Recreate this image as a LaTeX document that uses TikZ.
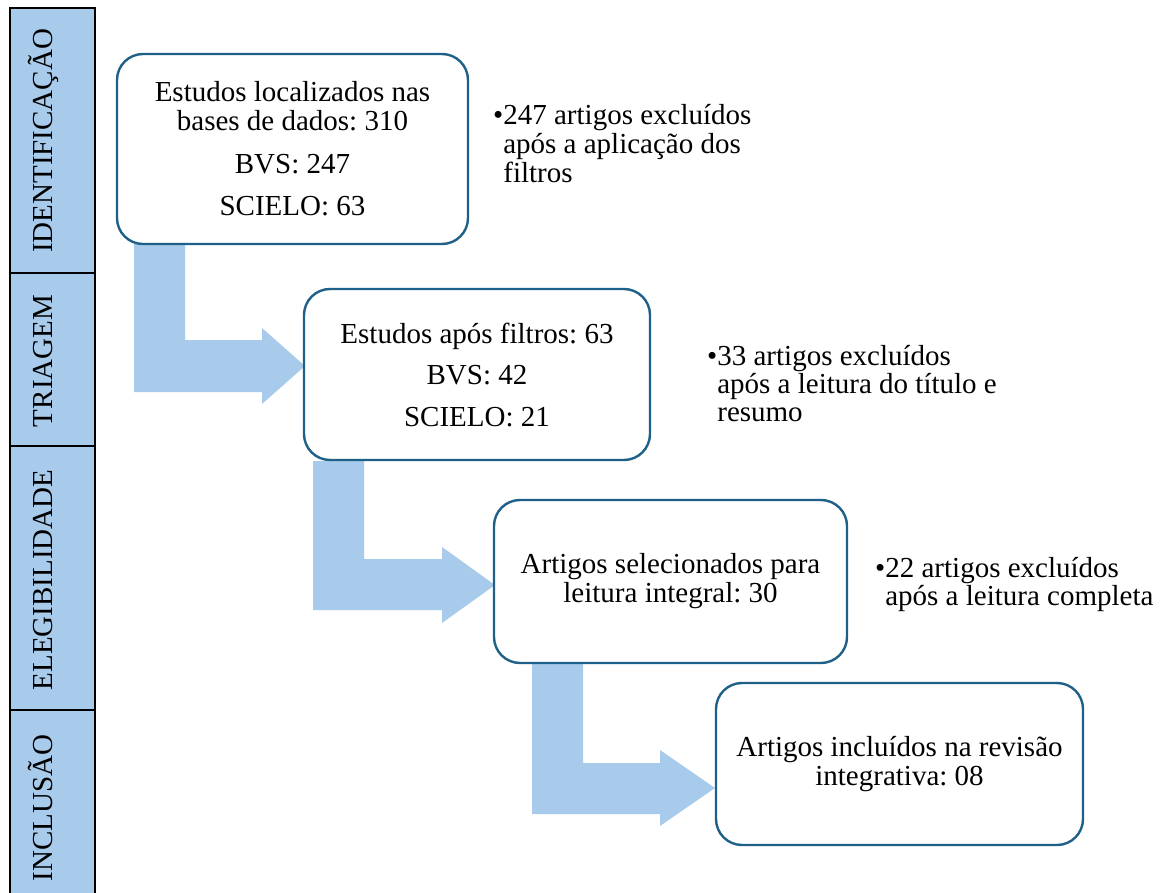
\documentclass[tikz,border=0pt]{standalone}
\usepackage{fontspec}
\setmainfont{Liberation Serif}
\definecolor{boxline}{HTML}{1F6088}
\definecolor{lightblue}{HTML}{A8CBEC}
\newcommand{\diagfont}{\fontsize{29}{29}\selectfont\frenchspacing}
\newcommand{\notefont}{\fontsize{29}{28}\selectfont\frenchspacing}
\begin{document}
\begin{tikzpicture}[x=1pt,y=-1pt,
  box/.style={draw=boxline, line width=2.4pt, rounded corners=26pt, fill=white,
    align=center, inner sep=0pt, font=\diagfont},
  phase/.style={draw=black, line width=2pt, fill=lightblue, inner sep=0pt,
    minimum width=85pt},
  phaselabel/.style={rotate=90, anchor=base, inner sep=0pt, font=\diagfont},
  note/.style={anchor=base west, inner sep=0pt, font=\notefont},
  blockarrow/.style={fill=lightblue, draw=none}]
\useasboundingbox (0,0) rectangle (1170,893);

% phase column
\node[phase, minimum height=265pt] (p1) at (52.5,140.5) {};
\node[phase, minimum height=173pt] (p2) at (52.5,359.5) {};
\node[phase, minimum height=264pt] (p3) at (52.5,578) {};
\node[phase, minimum height=200pt] (p4) at (52.5,810) {};
\node[phaselabel] (l1) at (52,141) {IDENTIFICAÇÃO};
\node[phaselabel] (l2) at (52,361) {TRIAGEM};
\node[phaselabel] (l3) at (52,580) {ELEGIBILIDADE};
\node[phaselabel] (l4) at (52,808) {INCLUSÃO};

% block arrows
\fill[blockarrow] (134,244) -- (185,244) -- (185,340) -- (262,340) -- (262,328)
  -- (305,366) -- (262,404) -- (262,392) -- (134,392) -- cycle;
\fill[blockarrow] (313,461) -- (364,461) -- (364,559) -- (442,559) -- (442,547)
  -- (495,585) -- (442,623) -- (442,610) -- (313,610) -- cycle;
\fill[blockarrow] (532,664) -- (583,664) -- (583,763) -- (660,763) -- (660,750)
  -- (715,788) -- (660,826) -- (660,814) -- (532,814) -- cycle;

% boxes
\node[box, minimum width=351pt, minimum height=190pt] (b1) at (292.5,149)
  {Estudos localizados nas\\bases de dados: 310\\[13.5pt]BVS: 247\\[13.5pt]SCIELO: 63};
\node[box, minimum width=346pt, minimum height=171pt] (b2) at (477,374.5)
  {Estudos após filtros: 63\\[12.5pt]BVS: 42\\[12.5pt]SCIELO: 21};
\node[box, minimum width=353pt, minimum height=163pt] (b3) at (670.5,581.5)
  {Artigos selecionados para\\leitura integral: 30};
\node[box, minimum width=367pt, minimum height=162pt] (b4) at (899.5,764)
  {Artigos incluídos na revisão\\integrativa: 08};

% exclusion notes
\node[note] (e1) at (493,125)
  {\textbullet\begin{tabular}[t]{@{}l@{}}247 artigos excluídos\\após a aplicação dos\\filtros\end{tabular}};
\node[note] (e2) at (707,365)
  {\textbullet\begin{tabular}[t]{@{}l@{}}33 artigos excluídos\\após a leitura do título e\\resumo\end{tabular}};
\node[note] (e3) at (875,577)
  {\textbullet\begin{tabular}[t]{@{}l@{}}22 artigos excluídos\\após a leitura completa\end{tabular}};
\end{tikzpicture}
\end{document}
